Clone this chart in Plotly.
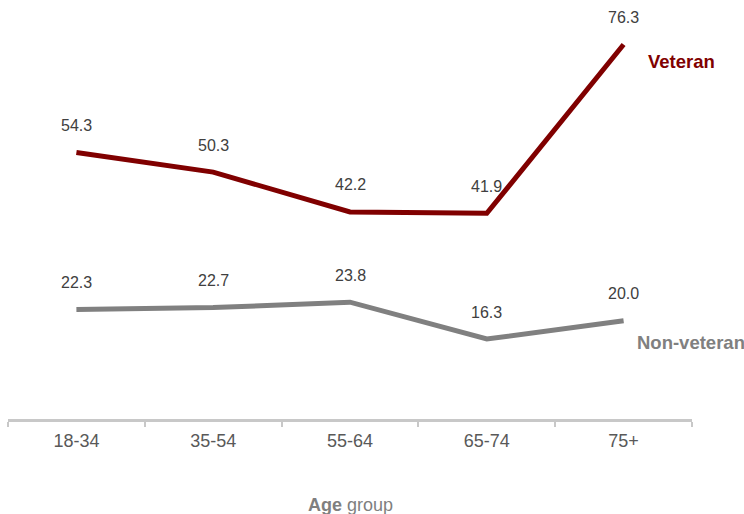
import plotly.graph_objects as go

age_groups = ["18-34", "35-54", "55-64", "65-74", "75+"]
veteran = [54.3, 50.3, 42.2, 41.9, 76.3]
non_veteran = [22.3, 22.7, 23.8, 16.3, 20.0]

VET_COLOR = "#800000"
NON_COLOR = "#808080"
FONT = "Liberation Sans, Arial, sans-serif"

fig = go.Figure()
fig.add_trace(go.Scatter(x=age_groups, y=veteran, mode="lines",
                         line=dict(color=VET_COLOR, width=5), name="Veteran"))
fig.add_trace(go.Scatter(x=age_groups, y=non_veteran, mode="lines",
                         line=dict(color=NON_COLOR, width=5), name="Non-veteran"))

annotations = []
for series in (veteran, non_veteran):
    for cat, v in zip(age_groups, series):
        annotations.append(dict(x=cat, y=v, text=f"{v:.1f}", showarrow=False,
                                yshift=27, font=dict(size=16, color="#404040", family=FONT)))

annotations.append(dict(x=age_groups[-1], y=veteran[-1], text="<b>Veteran</b>", showarrow=False,
                        xanchor="left", xshift=22, yshift=-17,
                        font=dict(size=18.5, color=VET_COLOR, family=FONT)))
annotations.append(dict(x=age_groups[-1], y=non_veteran[-1], text="<b>Non-veteran</b>", showarrow=False,
                        xanchor="left", xshift=11, yshift=-22,
                        font=dict(size=18.5, color=NON_COLOR, family=FONT)))

# axis title as a paper-anchored annotation
annotations.append(dict(x=0.5, xref="paper", y=-0.215, yref="paper", yanchor="middle",
                        text="<b>Age</b> group", showarrow=False,
                        font=dict(size=18, color="#7f7f7f", family=FONT)))

fig.update_layout(
    width=744, height=514,
    margin=dict(l=8, r=52, t=19, b=95),
    paper_bgcolor="white", plot_bgcolor="white",
    showlegend=False,
    annotations=annotations,
    font=dict(family=FONT),
    xaxis=dict(
        type="category", range=[-0.5, 4.5], automargin=False,
        tickson="boundaries", ticks="outside", ticklen=5, tickwidth=2, tickcolor="#c8c8c8",
        ticklabelstandoff=3,
        showline=True, linecolor="#c8c8c8", linewidth=3,
        showgrid=False, zeroline=False,
        tickfont=dict(size=18, color="#595959", family=FONT),
    ),
    yaxis=dict(range=[0, 81.5], visible=False, showgrid=False, zeroline=False),
)

fig.write_html("out.html", config={"displayModeBar": False},
               post_script="document.body.style.margin='0';")
